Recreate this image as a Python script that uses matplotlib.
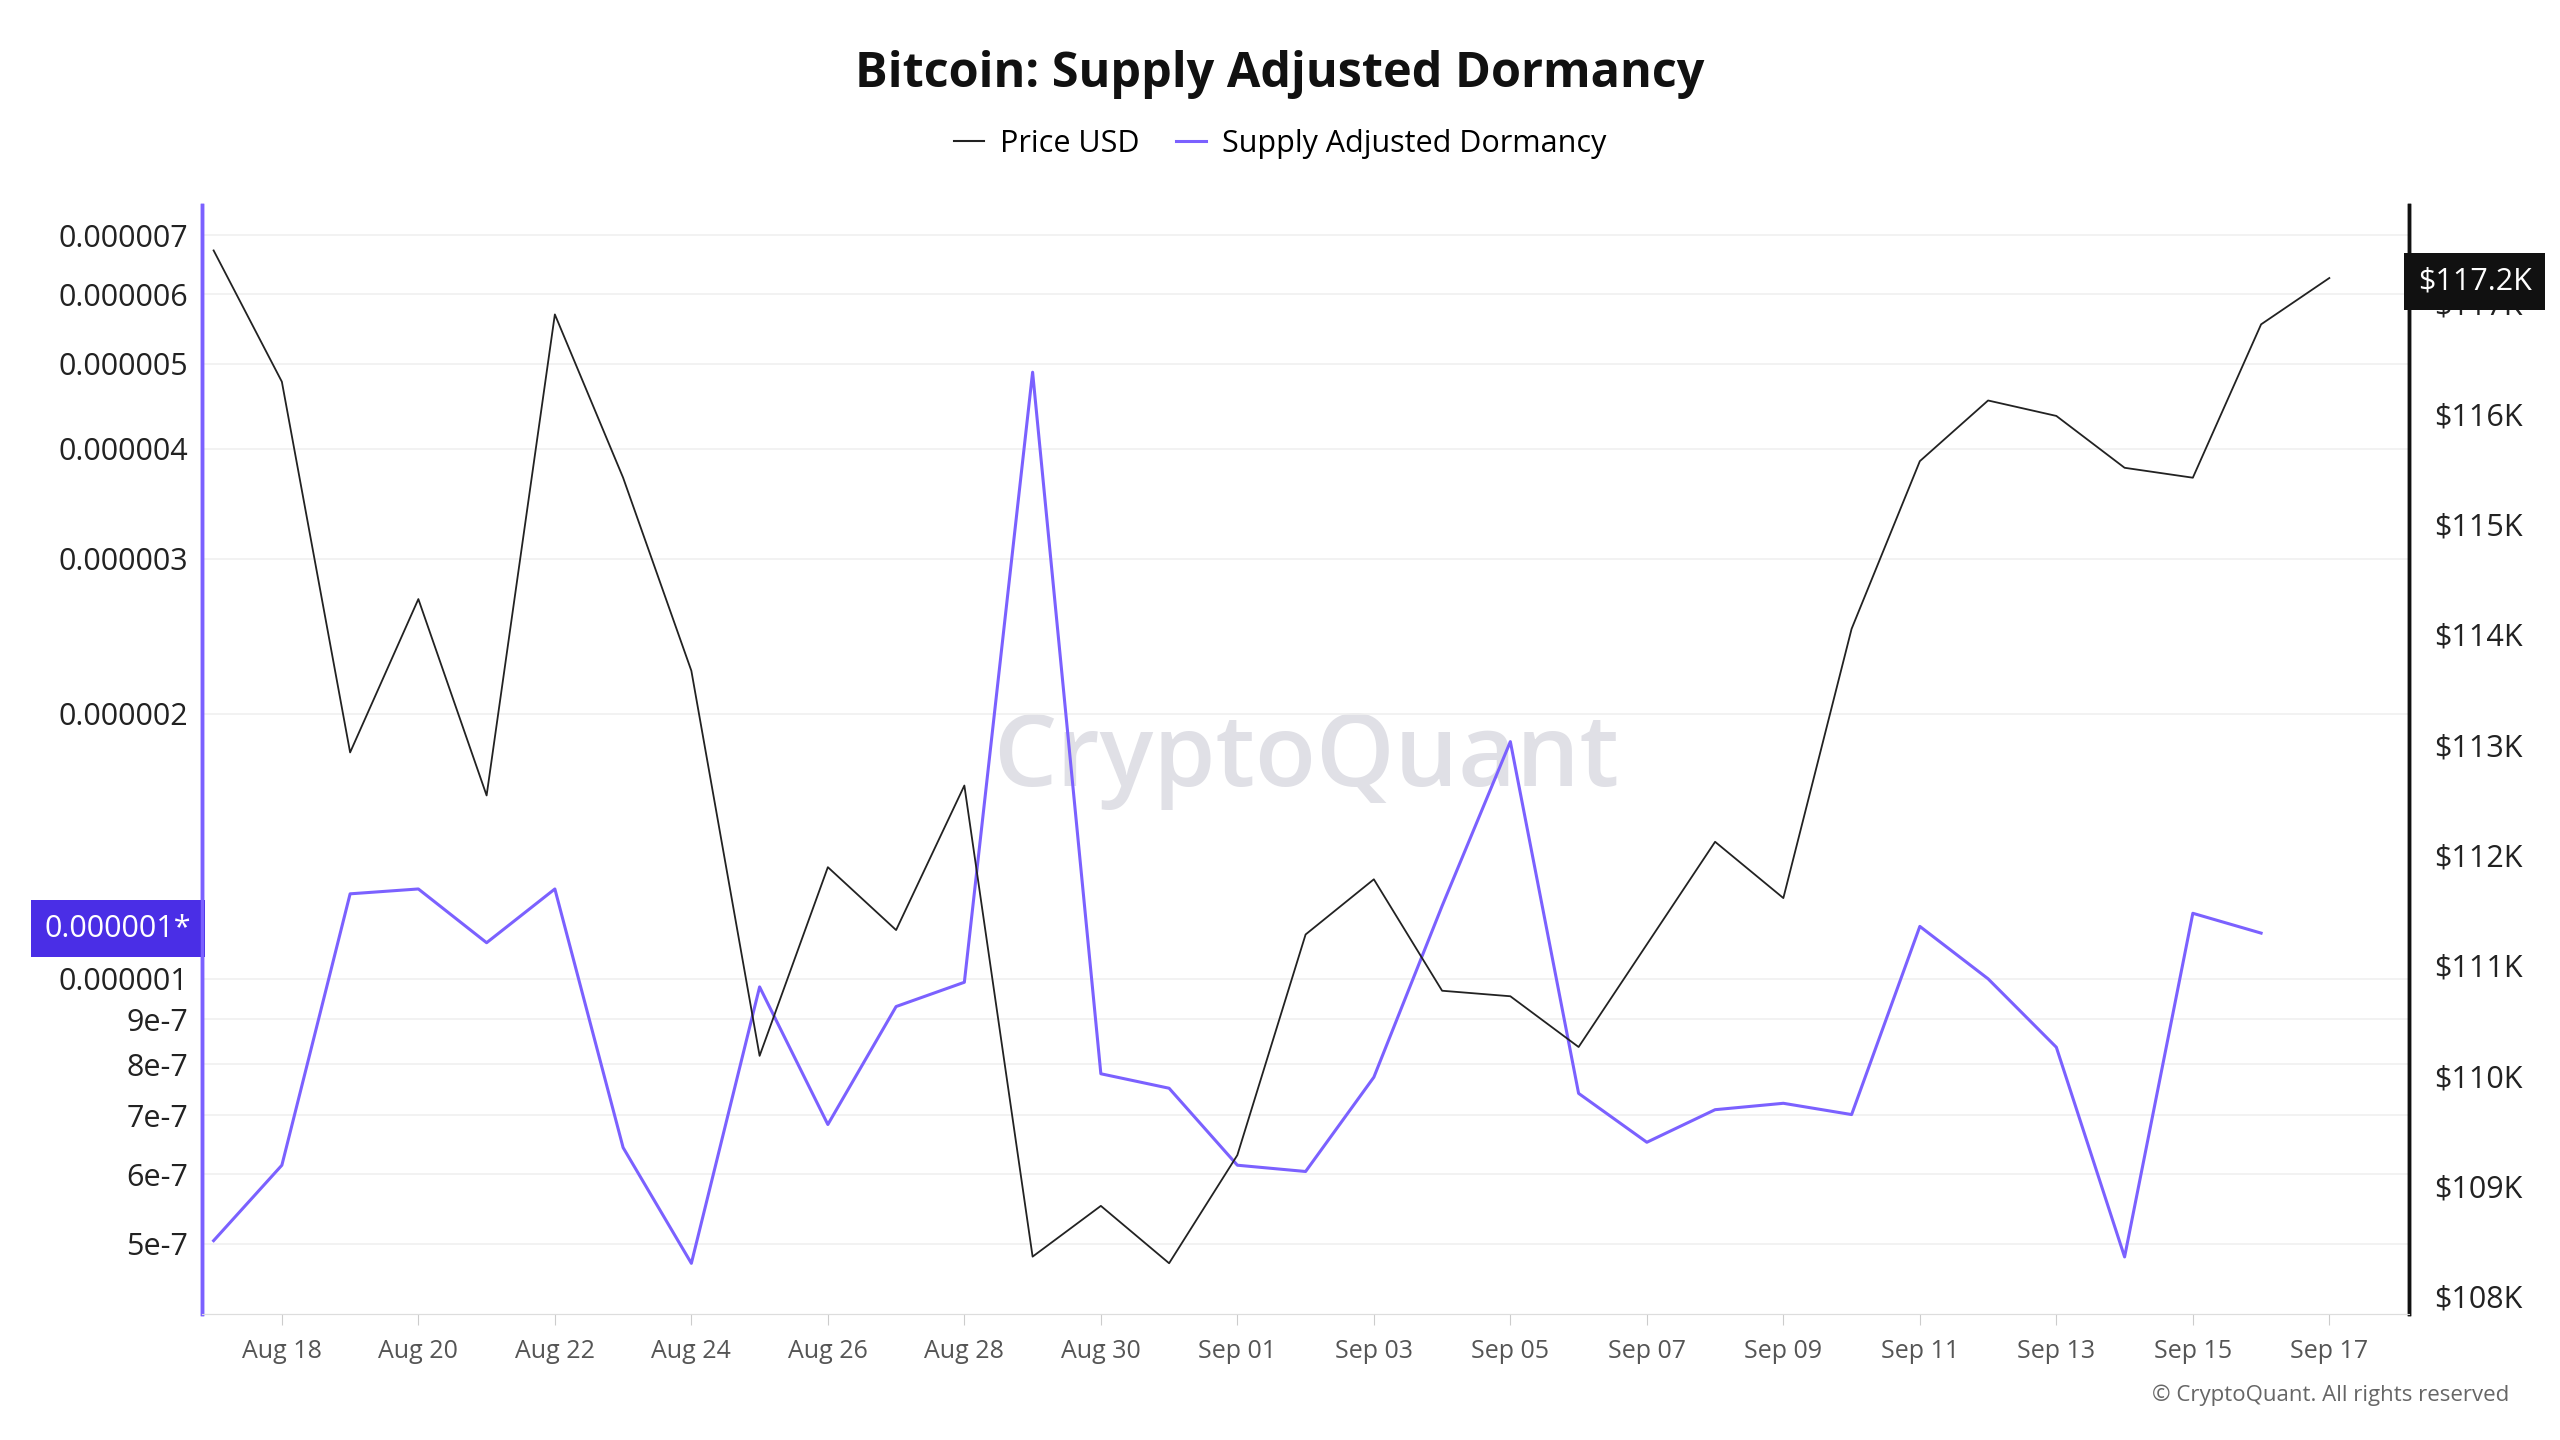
import matplotlib
matplotlib.use("Agg")
import matplotlib.pyplot as plt
import numpy as np
import pandas as pd

price_dates = pd.date_range("2025-08-17", "2025-09-17", freq="D")
price_k = [117.48,116.29,112.93,114.32,112.54,116.90,115.42,113.67,110.18,111.89,111.32,112.63,
           108.36,108.82,108.30,109.28,111.28,111.78,110.77,110.72,110.26,111.19,112.12,111.61,
           114.05,115.57,116.12,115.98,115.51,115.42,116.81,117.23]
dorm_dates = pd.date_range("2025-08-17", "2025-09-16", freq="D")
dorm_e7 = [5.04,6.14,12.49,12.65,10.99,12.65,6.43,4.75,9.79,6.83,9.30,9.91,48.9,7.80,7.51,
           6.14,6.04,7.73,12.1,18.6,7.41,6.52,7.10,7.22,7.01,11.47,10.0,8.36,4.83,11.87,11.27]
left_ticks = [5e-7,6e-7,7e-7,8e-7,9e-7,1e-6,2e-6,3e-6,4e-6,5e-6,6e-6,7e-6]
left_labels = ["5e-7","6e-7","7e-7","8e-7","9e-7","0.000001","0.000002","0.000003",
               "0.000004","0.000005","0.000006","0.000007"]
right_ticks = list(range(108, 118))
xtick_dates = pd.date_range("2025-08-18", "2025-09-17", freq="2D")

purple = "#7b61ff"
plt.rcParams["font.family"] = "Open Sans"
fig = plt.figure(figsize=(25.6, 14.4), dpi=100)
ax = fig.add_axes([0.079, 0.0875, 0.862, 0.77])
ax2 = ax.twinx()

ax.text(0.5, 0.5, "CryptoQuant", transform=ax.transAxes, fontsize=72, color="#e0e0e6",
        ha="center", va="center", fontweight="semibold", zorder=0)

dorm = np.array(dorm_e7) * 1e-7
ax.plot(dorm_dates, dorm, color=purple, lw=2.2, zorder=3)
ax.set_yscale("log")
ax.set_ylim(4.16e-7, 7.57e-6)
ax.set_yticks(left_ticks)
ax.set_yticklabels(left_labels)
ax.yaxis.set_minor_locator(matplotlib.ticker.NullLocator())
ax.grid(axis="y", color="#f0f0f0", lw=1.2)
ax.tick_params(axis="y", length=0, labelsize=22, colors="#222222", pad=10)

ax2.plot(price_dates, price_k, color="#222222", lw=1.3, zorder=2)
ax2.set_ylim(107.84, 117.89)
ax2.set_yticks(right_ticks)
ax2.set_yticklabels([f"${v}K" for v in right_ticks])
ax2.tick_params(axis="y", length=0, labelsize=22, colors="#222222", pad=18)

ax.set_xlim(pd.Timestamp("2025-08-16 20:00"), pd.Timestamp("2025-09-18 04:00"))
ax.set_xticks(xtick_dates)
ax.set_xticklabels([d.strftime("%b %d") for d in xtick_dates])
ax.tick_params(axis="x", labelsize=18, colors="#555555", length=8, color="#cccccc", pad=10)

for a in (ax, ax2):
    a.spines["top"].set_visible(False)
    a.spines["left"].set_color(purple)
    a.spines["left"].set_linewidth(2.5)
    a.spines["right"].set_color("#111111")
    a.spines["right"].set_linewidth(2.5)
    a.spines["bottom"].set_color("#dddddd")

ax.text(-0.005, 1.14e-6, "0.000001*", transform=ax.get_yaxis_transform(), ha="right", va="center",
        fontsize=22, color="white", bbox=dict(boxstyle="square,pad=0.45", fc="#4a2ee6", ec="none"))
ax2.text(1.004, 117.2, "$117.2K", transform=ax2.get_yaxis_transform(), ha="left", va="center",
         fontsize=22, color="white", bbox=dict(boxstyle="square,pad=0.45", fc="#111111", ec="none"))

fig.text(0.5, 0.948, "Bitcoin: Supply Adjusted Dormancy", fontsize=35, fontweight="bold",
         ha="center", va="center", color="#111111")
from matplotlib.lines import Line2D
handles = [Line2D([], [], color="#222222", lw=1.5), Line2D([], [], color=purple, lw=2.2)]
fig.legend(handles, ["Price USD", "Supply Adjusted Dormancy"], loc="center", bbox_to_anchor=(0.5, 0.9),
           ncol=2, frameon=False, fontsize=22, handlelength=1.0, handletextpad=0.5, columnspacing=1.2)
fig.text(0.98, 0.027, "© CryptoQuant. All rights reserved", fontsize=16, color="#666666", ha="right")
fig.savefig("out.png", dpi=100, facecolor="white")
